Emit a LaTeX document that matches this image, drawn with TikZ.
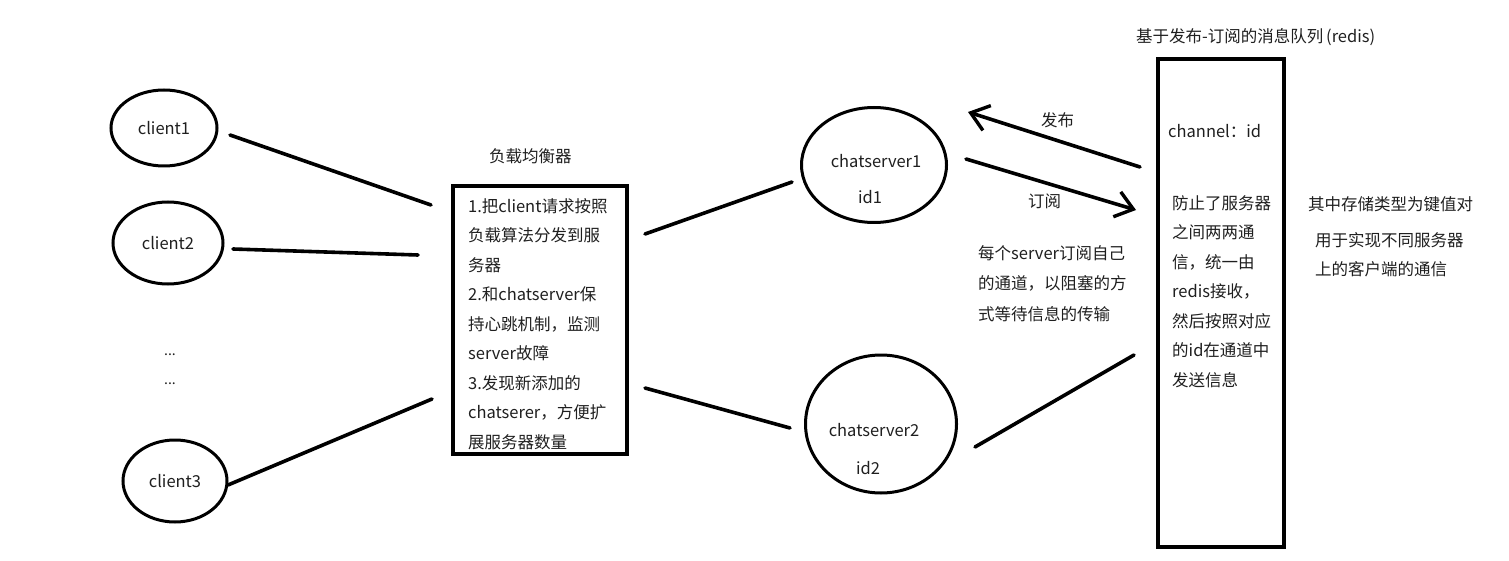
\documentclass[tikz,border=0pt]{standalone}
\usepackage{fontspec}
\setmainfont{Noto Sans CJK SC}
\usetikzlibrary{shapes.geometric,arrows.meta}
\tikzset{
  txt/.style={inner sep=0pt,font=\fontsize{16.5}{29.5}\selectfont,text=black!88},
  lbl/.style={txt,anchor=base west},
  blk/.style={txt,anchor=north west,align=left},
  oval/.style={draw,ellipse,line width=3pt,inner sep=0pt,txt},
  box/.style={draw,line width=4pt,inner sep=0pt},
  wire/.style={line width=3.6pt,line cap=round},
  arr/.style={wire,-{Straight Barb[length=17pt,width=26pt,line width=3.4pt]}}
}
\begin{document}
\begin{tikzpicture}[x=1pt,y=-1pt]
\useasboundingbox (0,0) rectangle (1509,561);
% clients
\node[oval,minimum width=106pt,minimum height=76pt] (c1) at (164,128) {client1};
\node[oval,minimum width=110pt,minimum height=82pt] (c2) at (168,243) {client2};
\node[oval,minimum width=104pt,minimum height=82pt] (c3) at (175,481) {client3};
\node[txt,font=\fontsize{14}{16}\selectfont,anchor=base] (d1) at (170,355) {...};
\node[txt,font=\fontsize{14}{16}\selectfont,anchor=base] (d2) at (170,384) {...};
% load balancer
\node[lbl] (lbt) at (489,163) {负载均衡器};
\draw[box] (453,186) rectangle (627,454);
\node[blk] (lbtext) at (468,192) {\rule{0pt}{20pt}1.把client请求按照\\负载算法分发到服\\务器\\2.和chatserver保\\持心跳机制，监测\\server故障\\3.发现新添加的\\chatserer，方便扩\\展服务器数量};
% chat servers
\node[oval,minimum width=145pt,minimum height=115pt] (s1) at (874,165) {};
\node[txt,anchor=base] (s1a) at (876,168) {chatserver1};
\node[txt,anchor=base] (s1b) at (870,204) {id1};
\node[oval,minimum width=151pt,minimum height=138pt] (s2) at (881,424) {};
\node[txt,anchor=base] (s2a) at (874,436) {chatserver2};
\node[txt,anchor=base] (s2b) at (868,474) {id2};
% redis
\node[lbl] (rt) at (1136,43) {基于发布-订阅的消息队列\,(redis)};
\draw[box] (1158,59) rectangle (1284,547);
\node[lbl] (ch) at (1168,138) {channel：id};
\node[blk] (rtext) at (1172,189) {\rule{0pt}{20pt}防止了服务器\\之间两两通\\信，统一由\\redis接收，\\然后按照对应\\的id在通道中\\发送信息};
\node[lbl] (k1) at (1308,211) {其中存储类型为键值对};
\node[blk,font=\fontsize{16.5}{29}\selectfont] (k2) at (1315,226) {\rule{0pt}{20pt}用于实现不同服务器\\上的客户端的通信};
% middle texts
\node[lbl] (pub) at (1041,127) {发布};
\node[lbl] (sub) at (1028,208) {订阅};
\node[blk,font=\fontsize{16.5}{30.5}\selectfont] (desc) at (978,239) {\rule{0pt}{20pt}每个server订阅自己\\的通道，以阻塞的方\\式等待信息的传输};
% connector end points
\coordinate (a1) at (230,135); \coordinate (b1) at (431,205);
\coordinate (a2) at (233,249); \coordinate (b2) at (418,255);
\coordinate (a3) at (228,485); \coordinate (b3) at (432,399);
\coordinate (a4) at (645,234); \coordinate (b4) at (792,182);
\coordinate (a5) at (645,388); \coordinate (b5) at (790,428);
\coordinate (a6) at (975,447); \coordinate (b6) at (1134,355);
\coordinate (p1) at (1140,167); \coordinate (p2) at (968,112);
\coordinate (q1) at (966,159); \coordinate (q2) at (1136,210);
\draw[wire] (a1) -- (b1);
\draw[wire] (a2) -- (b2);
\draw[wire] (a3) -- (b3);
\draw[wire] (a4) -- (b4);
\draw[wire] (a5) -- (b5);
\draw[wire] (a6) -- (b6);
\draw[arr] (p1) -- (p2);
\draw[arr] (q1) -- (q2);
\end{tikzpicture}
\end{document}
